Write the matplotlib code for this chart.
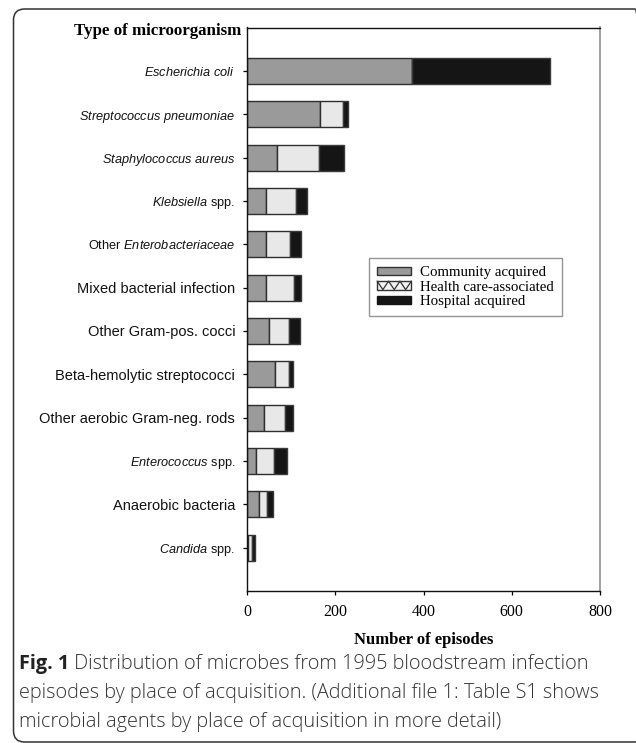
import matplotlib
matplotlib.use("Agg")
import matplotlib.pyplot as plt
from matplotlib.patches import Rectangle, FancyBboxPatch, Patch
from matplotlib.lines import Line2D
from matplotlib.legend_handler import HandlerBase
from matplotlib.transforms import IdentityTransform
import numpy as np

plt.rcParams['mathtext.fontset'] = 'custom'
plt.rcParams['mathtext.it'] = 'Liberation Sans:italic'
plt.rcParams['mathtext.rm'] = 'Liberation Sans'
plt.rcParams['font.family'] = 'Liberation Sans'

# ---------------- data ----------------
categories = [
    r"$\mathit{Escherichia\ coli}$",
    r"$\mathit{Streptococcus\ pneumoniae}$",
    r"$\mathit{Staphylococcus\ aureus}$",
    r"$\mathit{Klebsiella}$ spp.",
    r"Other $\mathit{Enterobacteriaceae}$",
    "Mixed bacterial infection",
    "Other Gram-pos. cocci",
    "Beta-hemolytic streptococci",
    "Other aerobic Gram-neg. rods",
    r"$\mathit{Enterococcus}$ spp.",
    "Anaerobic bacteria",
    r"$\mathit{Candida}$ spp.",
]
community = [374, 165, 68, 43, 43, 44, 50, 64, 39, 21, 27, 3]
health_care = [0, 52, 95, 67, 55, 63, 46, 31, 48, 41, 18, 8]
hospital = [313, 11, 56, 26, 25, 15, 25, 10, 17, 29, 13, 8]
series_names = ["Community acquired", "Health care-associated", "Hospital acquired"]
xticks = [0, 200, 400, 600, 800]

# ---------------- figure ----------------
W, H = 636, 743
fig = plt.figure(figsize=(W / 100, H / 100), dpi=100)
fig.patch.set_facecolor("white")

ax_l, ax_r, ax_t, ax_b = 247, 600, 27.5, 591
ax = fig.add_axes([ax_l / W, 1 - ax_b / H, (ax_r - ax_l) / W, (ax_b - ax_t) / H])

c_comm, c_hca, c_hosp = "#9a9a9a", "#e8e8e8", "#151515"
edge = "#2e2e2e"
y = np.arange(len(categories))
comm = np.array(community)
hca = np.array(health_care)
hosp = np.array(hospital)
bh = 0.6
ax.barh(y, comm, height=bh, color=c_comm, edgecolor=edge, linewidth=1.0)
ax.barh(y, hca, left=comm, height=bh, color=c_hca, edgecolor=edge, linewidth=1.0)
ax.barh(y, hosp, left=comm + hca, height=bh, color=c_hosp, edgecolor="#3a3a3a", linewidth=1.0)

ax.set_ylim(len(categories), -1)
ax.set_xlim(0, 800)
ax.set_yticks(y)
ax.set_yticklabels(categories)
for lbl, txt in zip(ax.get_yticklabels(), categories):
    lbl.set_fontsize(9.2 if "$" in txt else 10.5)
    lbl.set_color("#111111")
ax.set_xticks(xticks)
ax.set_xticklabels([str(v) for v in xticks], family="Liberation Serif", fontsize=11.5)
ax.tick_params(axis="y", direction="out", length=3, width=0.9, pad=5.5)
ax.tick_params(axis="x", direction="out", length=3, width=0.9, pad=6)

for s in ["left", "bottom", "top"]:
    ax.spines[s].set_color("#111111")
    ax.spines[s].set_linewidth(1.0)
ax.spines["right"].set_color("#9a9a9a")
ax.spines["right"].set_linewidth(1.3)

ax.set_xlabel("Number of episodes", family="Liberation Serif", fontweight="bold",
              fontsize=12, labelpad=9)
fig.text(241 / W, 1 - 35 / H, "Type of microorganism", family="Liberation Serif",
         fontweight="bold", fontsize=12.2, ha="right", va="baseline")


# legend with zigzag handle for health care-associated
class ZigZagHandler(HandlerBase):
    def create_artists(self, legend, orig_handle, xdescent, ydescent, width, height,
                       fontsize, trans):
        r = Rectangle((-xdescent, -ydescent), width, height, facecolor="#f2f2f2",
                      edgecolor="#333333", linewidth=1.0, transform=trans)
        n = 3
        xs = [-xdescent + width * i / (2 * n) for i in range(2 * n + 1)]
        ys = [-ydescent + (height if i % 2 == 0 else 0) for i in range(2 * n + 1)]
        ln = Line2D(xs, ys, color="#333333", linewidth=0.9, transform=trans)
        return [r, ln]


class ZZ:
    pass


h1 = Patch(facecolor=c_comm, edgecolor="#333333", linewidth=1.0)
h2 = ZZ()
h3 = Patch(facecolor=c_hosp, edgecolor="#151515", linewidth=1.0)
leg = ax.legend([h1, h2, h3], series_names, loc="upper left",
                bbox_to_anchor=((369 - ax_l) / (ax_r - ax_l), 1 - (258 - ax_t) / (ax_b - ax_t)),
                borderaxespad=0, frameon=True, fancybox=False, shadow=False,
                prop={"family": "Liberation Serif", "size": 10.7},
                handlelength=2.3, handleheight=0.5, handletextpad=0.6,
                labelspacing=0.1, borderpad=0.55,
                handler_map={ZZ: ZigZagHandler()})
leg.get_frame().set_edgecolor("#7a7a7a")
leg.get_frame().set_linewidth(1.0)

# outer rounded frame
frame = FancyBboxPatch((13.5, H - 742), 636 - 13.5 + 10, 742 - 9,
                       boxstyle="round,pad=0,rounding_size=11",
                       transform=IdentityTransform(), facecolor="none",
                       edgecolor="#333333", linewidth=1.1, zorder=0)
fig.add_artist(frame)

# caption
cap_font = "Open Sans"
cap_size = 14.3
x0 = 19 / W
lines = [
    (True, "Distribution of microbes from 1995 bloodstream infection"),
    (False, "episodes by place of acquisition. (Additional file 1: Table S1 shows"),
    (False, "microbial agents by place of acquisition in more detail)"),
]
line_y = [669, 698, 727]
renderer = fig.canvas.get_renderer()
for (has_fig, txt), ly in zip(lines, line_y):
    yy = 1 - ly / H
    if has_fig:
        t = fig.text(x0, yy, "Fig. 1", family=cap_font, fontweight="bold",
                     fontsize=cap_size, color="#222222", va="baseline")
        bb = t.get_window_extent(renderer)
        fig.text(bb.x1 / W, yy, " " + txt, family=cap_font, fontsize=cap_size,
                 color="#333333", va="baseline", fontweight="light")
    else:
        fig.text(x0, yy, txt, family=cap_font, fontsize=cap_size, color="#333333",
                 va="baseline", fontweight="light")

fig.savefig("out.png", dpi=100)
